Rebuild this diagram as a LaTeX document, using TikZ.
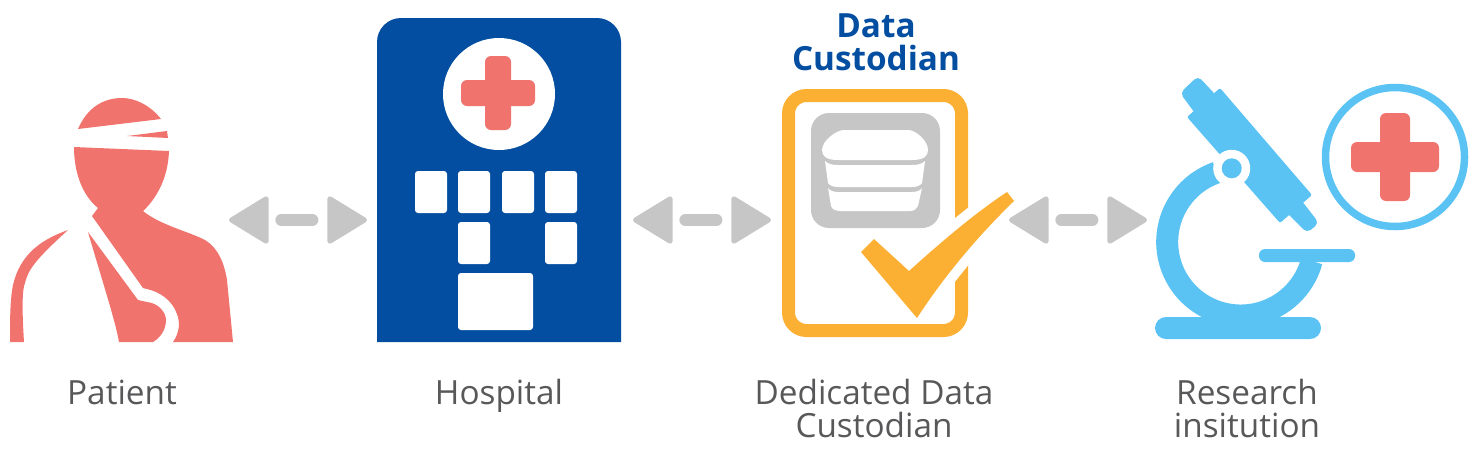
\documentclass[tikz,border=0pt]{standalone}
\usepackage{fontspec}
\setmainfont{Open Sans}
\usetikzlibrary{arrows.meta}
\definecolor{salmonred}{HTML}{F1736D}
\definecolor{hospitalblue}{HTML}{034EA0}
\definecolor{custodianorange}{HTML}{FBB034}
\definecolor{scopeblue}{HTML}{5BC3F4}
\definecolor{linkgray}{HTML}{C6C6C6}
\definecolor{labelgray}{HTML}{58585A}
\begin{document}
\begin{tikzpicture}[x=1pt, y=-1pt,
  iconlabel/.style={align=center, inner sep=0pt, anchor=base, text=labelgray, font=\fontsize{33.3}{33}\selectfont},
  titlelabel/.style={align=center, inner sep=0pt, anchor=base, text=hospitalblue, font=\fontsize{33.3}{33}\selectfont\bfseries},
  window/.style={fill=white, rounded corners=3pt, inner sep=0pt},
  crossbar/.style={fill=salmonred, rounded corners=6pt, inner sep=0pt},
  link/.style={draw=linkgray, line width=12pt, line cap=round,
    dash pattern=on 31pt off 100pt, dash phase=117pt,
    {Triangle[length=42pt,width=50pt,line width=5pt,round]}-{Triangle[length=42pt,width=50pt,line width=5pt,round]}}]
  \useasboundingbox (0,0) rectangle (1479,456);
  % Patient
  \fill[salmonred] (74,147) -- (169,151) .. controls (168,180) and (155,200) .. (143,211)
    .. controls (160,225) and (190,232) .. (205,240) .. controls (218,248) and (224,262) .. (227,280)
    -- (233,342) -- (173,342) .. controls (180,332) and (180,322) .. (177,314)
    .. controls (172,300) and (160,292) .. (147,289) -- (143,288) -- (92,216) -- (98,208)
    .. controls (82,195) and (74,172) .. (74,147) -- cycle;
  \fill[salmonred] (88,232) -- (138,300) -- (147,302) .. controls (158,303) and (166,312) .. (166,320)
    .. controls (166,330) and (160,338) .. (153,342) -- (119,342) .. controls (115,320) and (105,290) .. (88,232) -- cycle;
  \fill[salmonred] (68,230) .. controls (40,240) and (20,255) .. (13,285) .. controls (10,300) and (10,320) .. (10,342)
    -- (24,342) .. controls (22,310) and (22,290) .. (25,283) .. controls (28,270) and (35,260) .. (68,230) -- cycle;
  \fill[salmonred] (78,129) -- (161,119) .. controls (150,105) and (135,98) .. (122,98)
    .. controls (103,98) and (87,108) .. (78,129) -- cycle;
  \fill[salmonred] (127,136) -- (167,131) -- (168,138) -- cycle;
  % Hospital
  \fill[hospitalblue] (377,342) [rounded corners=24pt] -- (377,18) -- (621,18) [sharp corners] -- (621,342) -- cycle;
  \fill[white] (499,94) circle (56);
  \node[crossbar, minimum width=74pt, minimum height=26pt] (hospitalbar) at (498,93) {};
  \node[crossbar, minimum width=26pt, minimum height=74pt] (hospitalpost) at (498,93) {};
  \node[window, minimum width=32pt, minimum height=42pt] (wa) at (431,192) {};
  \node[window, minimum width=32pt, minimum height=42pt] (wb) at (474,192) {};
  \node[window, minimum width=32pt, minimum height=42pt] (wc) at (518,192) {};
  \node[window, minimum width=32pt, minimum height=42pt] (wd) at (561,192) {};
  \node[window, minimum width=32pt, minimum height=42pt] (we) at (474,243) {};
  \node[window, minimum width=32pt, minimum height=42pt] (wf) at (561,243) {};
  \node[window, minimum width=75pt, minimum height=57pt] (door) at (495.5,301.5) {};
  % Data custodian
  \draw[custodianorange, line width=13pt, rounded corners=18pt] (788.5,95.5) rectangle (961.5,330.5);
  \fill[linkgray, rounded corners=18pt] (811,113) rectangle (940,228);
  \fill[white] (844,130) -- (908,130) .. controls (916,130) and (928,141) .. (928,150)
    .. controls (928,156) and (924,160) .. (912,160) -- (838,160) .. controls (826,160) and (822,156) .. (822,150)
    .. controls (822,141) and (836,130) .. (844,130) -- cycle;
  \fill[white] (825,161) .. controls (828,164) and (832,165) .. (838,165) -- (912,165)
    .. controls (918,165) and (922,164) .. (925,161) -- (922,183) .. controls (920,186) and (916,187) .. (912,187)
    -- (838,187) .. controls (834,187) and (830,186) .. (828,183) -- cycle;
  \fill[white] (828,188) .. controls (830,191) and (834,192) .. (838,192) -- (912,192)
    .. controls (916,192) and (920,191) .. (922,188) -- (918,206) .. controls (917,209) and (914,211) .. (910,211)
    -- (840,211) .. controls (835,211) and (832,209) .. (831,206) -- cycle;
  \begin{scope}
    \clip (945,100) rectangle (975,320);
    \draw[white, line width=20pt] (909,271) .. controls (940,243) and (975,213) .. (1007,192) -- (1014,201)
      .. controls (978,236) and (945,275) .. (917,318);
  \end{scope}
  \fill[custodianorange] (874,239) -- (909,271) .. controls (940,243) and (975,213) .. (1007,192) -- (1014,201)
    .. controls (978,236) and (945,275) .. (917,318) -- (861,252) -- cycle;
  % Research institution
  \draw[scopeblue, line width=22pt] (1240.7,242) ++(-109:73.5) arc[start angle=-109, end angle=-345, radius=73.5];
  \fill[scopeblue, rounded corners=11pt] (1155,317) rectangle (1321,339);
  \fill[scopeblue, rounded corners=6pt] (1259,249) rectangle (1355,262);
  \fill[scopeblue, rounded corners=2pt] (1220,88) -- (1312,195) -- (1280,223) -- (1187,117) -- cycle;
  \fill[scopeblue, rounded corners=5pt] (1198,76) -- (1228,108) -- (1206,128) -- (1180,93) -- cycle;
  \fill[scopeblue, rounded corners=5pt] (1298,196) -- (1319,223) -- (1307,233) -- (1283,209) -- cycle;
  \fill[white] (1231.7,168.3) circle (18.5);
  \fill[scopeblue] (1231.7,168.3) circle (10);
  \draw[scopeblue, line width=7.5pt] (1395,157) circle (69.5);
  \node[crossbar, minimum width=88pt, minimum height=30pt] (researchbar) at (1395,157) {};
  \node[crossbar, minimum width=30pt, minimum height=88pt] (researchpost) at (1395,157) {};
  % Double arrows
  \coordinate (pa) at (229,220);
  \coordinate (ho) at (367,220);
  \coordinate (hb) at (633,220);
  \coordinate (cu) at (771,220);
  \coordinate (cb) at (1009,220);
  \coordinate (re) at (1147,220);
  \draw[link] (pa) -- (ho);
  \draw[link] (hb) -- (cu);
  \draw[link] (cb) -- (re);
  % Labels
  \node[titlelabel] (title) at (876,70) {Data\\Custodian};
  \node[iconlabel] (patienttext) at (122,404) {Patient};
  \node[iconlabel] (hospitaltext) at (499,404) {Hospital};
  \node[iconlabel] (custodiantext) at (874,437) {Dedicated Data\\Custodian};
  \node[iconlabel] (researchtext) at (1247,437) {Research\\insitution};
\end{tikzpicture}
\end{document}
